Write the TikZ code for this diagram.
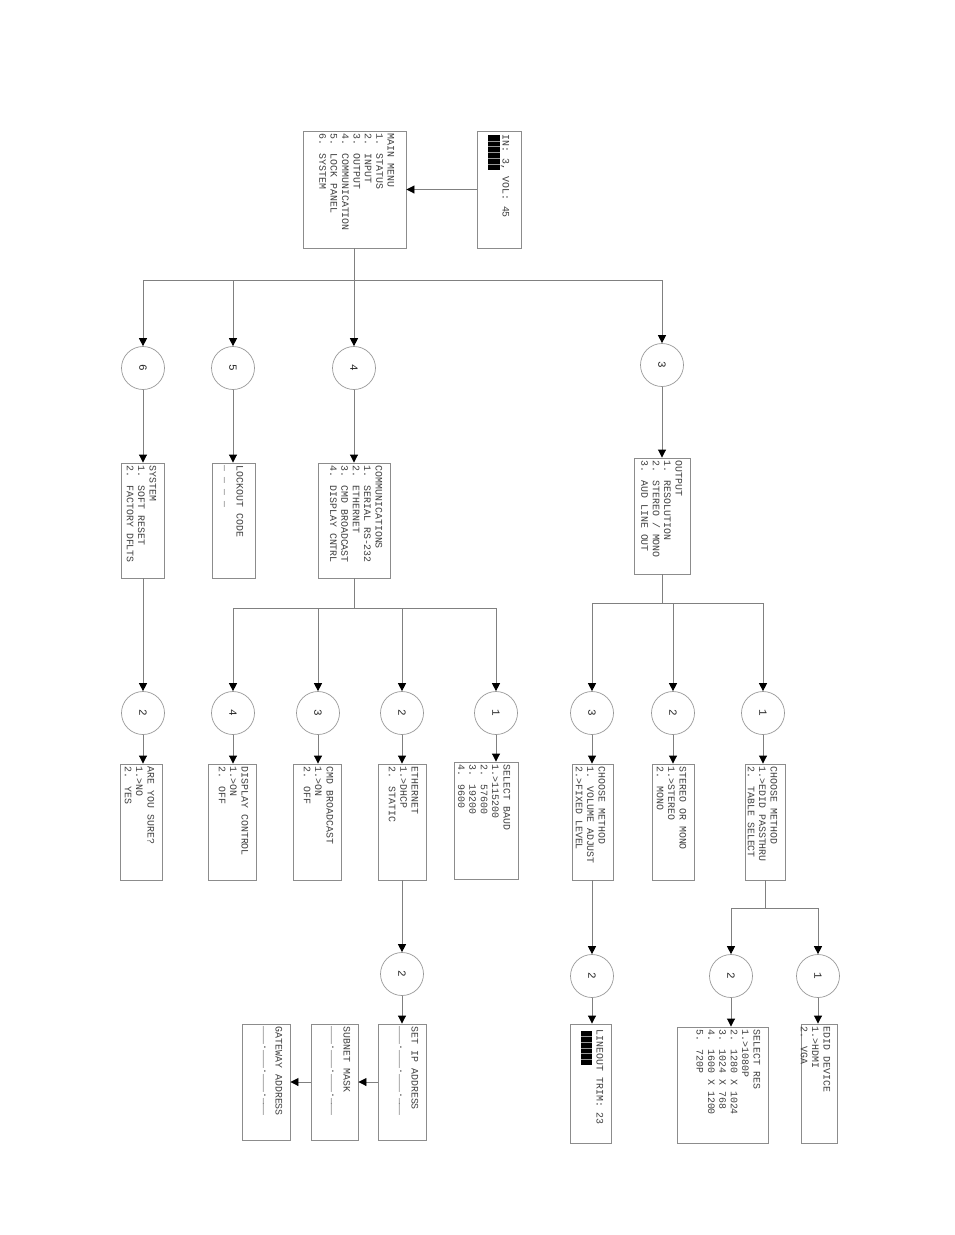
\documentclass[tikz,border=0pt]{standalone}
\usepackage{fontspec}
\newfontfamily\lcdfont{Liberation Mono}
\usetikzlibrary{arrows.meta}
\tikzset{
    menu/.style={draw=black!45, line width=0.9pt, inner sep=0pt},
    txt/.style={rotate=-90, anchor=north west, align=left, inner sep=0pt, text=black!75, font=\lcdfont\fontsize{9.9}{11.4}\selectfont},
    num/.style={circle, draw=black!40, line width=0.7pt, minimum size=43pt, inner sep=0pt, rotate=-90, text=black!85, font=\lcdfont\fontsize{11}{12}\selectfont},
    line/.style={draw=black!50, line width=0.9pt},
    arr/.style={line, -{Triangle[length=8pt,width=8pt,black]}}
}
\begin{document}
\begin{tikzpicture}[x=1pt,y=-1pt]
    \useasboundingbox[fill=white] (0,0) rectangle (954,1235);
    \node[menu, minimum width=103pt, minimum height=117pt] (main) at (354.5,189.5) {};
    \node[txt] (mainT) at ([xshift=-12pt,yshift=-3pt]main.north east) {MAIN MENU\\1. STATUS\\2. INPUT\\3. OUTPUT\\4. COMMUNICATION\\5. LOCK PANEL\\6. SYSTEM};
    \node[menu, minimum width=44pt, minimum height=117pt] (status) at (499,189.5) {};
    \node[txt] (statusT) at ([xshift=-12pt,yshift=-4pt]status.north east) {IN: 3, VOL: 45};
    \fill (488,135) rectangle (500,170);
    \foreach \k in {1,...,5} \draw[black!40, line width=0.4pt] (488,{135+5.83*\k}) -- (500,{135+5.83*\k});
    \draw[arr] (status) -- (main);
    \node[num] (c6) at (143,368) {6};
    \node[num] (c5) at (233,368) {5};
    \node[num] (c4) at (354,368) {4};
    \node[num] (c3) at (662,365) {3};
    \coordinate (mainJ) at (354.5,280);
    \draw[line] (main.south) -- (mainJ);
    \draw[arr] (mainJ) -| (c6);
    \draw[arr] (mainJ) -| (c5);
    \draw[arr] (mainJ) -| (c4);
    \draw[arr] (mainJ) -| (c3);
    \node[menu, minimum width=43pt, minimum height=115pt] (sys) at (142.5,520.5) {};
    \node[txt] (sysT) at ([xshift=-8pt,yshift=-3pt]sys.north east) {SYSTEM\\1. SOFT RESET\\2. FACTORY DFLTS};
    \node[menu, minimum width=43pt, minimum height=115pt] (lock) at (233.5,520.5) {};
    \node[txt] (lockT) at ([xshift=-12pt,yshift=-3pt]lock.north east) {LOCKOUT CODE\\\_ \_ \_ \_};
    \node[menu, minimum width=72pt, minimum height=115pt] (comm) at (354,520.5) {};
    \node[txt] (commT) at ([xshift=-8pt,yshift=-3pt]comm.north east) {COMMUNICATIONS\\1. SERIAL RS-232\\2. ETHERNET\\3. CMD BROADCAST\\4. DISPLAY CNTRL};
    \node[menu, minimum width=56pt, minimum height=116pt] (out) at (662,516) {};
    \node[txt] (outT) at ([xshift=-8pt,yshift=-3pt]out.north east) {OUTPUT\\1. RESOLUTION\\2. STEREO / MONO\\3. AUD LINE OUT};
    \draw[arr] (c6) -- (c6 |- sys.north);
    \draw[arr] (c5) -- (c5 |- lock.north);
    \draw[arr] (c4) -- (c4 |- comm.north);
    \draw[arr] (c3) -- (c3 |- out.north);
    \node[num] (s2) at (143,713) {2};
    \node[num] (d4) at (233,713) {4};
    \node[num] (d3) at (318,713) {3};
    \node[num] (d2) at (402,713) {2};
    \node[num] (d1) at (496,713) {1};
    \node[num] (e3) at (592,713) {3};
    \node[num] (e2) at (673,713) {2};
    \node[num] (e1) at (763,713) {1};
    \draw[arr] (sys.south -| s2) -- (s2);
    \coordinate (commJ) at (354,608);
    \draw[line] (comm.south) -- (commJ);
    \draw[arr] (commJ) -| (d4);
    \draw[arr] (commJ) -| (d3);
    \draw[arr] (commJ) -| (d2);
    \draw[arr] (commJ) -| (d1);
    \coordinate (outJ) at (662,603);
    \draw[line] (out.south) -- (outJ);
    \draw[arr] (outJ) -| (e3);
    \draw[arr] (outJ) -| (e2);
    \draw[arr] (outJ) -| (e1);
    \node[menu, minimum width=42pt, minimum height=116pt] (sure) at (141,822) {};
    \node[txt] (sureT) at ([xshift=-8pt,yshift=-3pt]sure.north east) {ARE YOU SURE?\\1.>NO\\2. YES};
    \node[menu, minimum width=48pt, minimum height=116pt] (disp) at (232,822) {};
    \node[txt] (dispT) at ([xshift=-8pt,yshift=-3pt]disp.north east) {DISPLAY CONTROL\\1.>ON\\2. OFF};
    \node[menu, minimum width=48pt, minimum height=116pt] (cmd) at (317,822) {};
    \node[txt] (cmdT) at ([xshift=-8pt,yshift=-3pt]cmd.north east) {CMD BROADCAST\\1.>ON\\2. OFF};
    \node[menu, minimum width=48pt, minimum height=116pt] (eth) at (402,822) {};
    \node[txt] (ethT) at ([xshift=-8pt,yshift=-3pt]eth.north east) {ETHERNET\\1.>DHCP\\2. STATIC};
    \node[menu, minimum width=64pt, minimum height=117pt] (baud) at (486,820.5) {};
    \node[txt] (baudT) at ([xshift=-8pt,yshift=-3pt]baud.north east) {SELECT BAUD\\1.>115200\\2. 57600\\3. 19200\\4. 9600};
    \node[menu, minimum width=41pt, minimum height=116pt] (vol) at (592.5,822) {};
    \node[txt] (volT) at ([xshift=-8pt,yshift=-3pt]vol.north east) {CHOOSE METHOD\\1. VOLUME ADJUST\\2.>FIXED LEVEL};
    \node[menu, minimum width=42pt, minimum height=116pt] (stereo) at (673,822) {};
    \node[txt] (stereoT) at ([xshift=-8pt,yshift=-3pt]stereo.north east) {STEREO OR MONO\\1.>STEREO\\2. MONO};
    \node[menu, minimum width=40pt, minimum height=116pt] (meth) at (765,822) {};
    \node[txt] (methT) at ([xshift=-8pt,yshift=-3pt]meth.north east) {CHOOSE METHOD\\1.>EDID PASSTHRU\\2. TABLE SELECT};
    \draw[arr] (s2) -- (s2 |- sure.north);
    \draw[arr] (d4) -- (d4 |- disp.north);
    \draw[arr] (d3) -- (d3 |- cmd.north);
    \draw[arr] (d2) -- (d2 |- eth.north);
    \draw[arr] (d1) -- (d1 |- baud.north);
    \draw[arr] (e3) -- (e3 |- vol.north);
    \draw[arr] (e2) -- (e2 |- stereo.north);
    \draw[arr] (e1) -- (e1 |- meth.north);
    \node[num] (f2) at (402,974) {2};
    \node[num] (g2) at (592,976) {2};
    \node[num] (h2) at (731,976) {2};
    \node[num] (h1) at (818,976) {1};
    \draw[arr] (eth.south -| f2) -- (f2);
    \draw[arr] (vol.south -| g2) -- (g2);
    \coordinate (methJ) at (765,908);
    \draw[line] (meth.south) -- (methJ);
    \draw[arr] (methJ) -| (h2);
    \draw[arr] (methJ) -| (h1);
    \node[menu, minimum width=48pt, minimum height=116pt] (ip) at (402,1082) {};
    \node[txt] (ipT) at ([xshift=-8pt,yshift=-3pt]ip.north east) {SET IP ADDRESS\\\_\_\_.\_\_\_.\_\_\_.\_\_\_};
    \node[menu, minimum width=47pt, minimum height=116pt] (subnet) at (334.5,1082) {};
    \node[txt] (subnetT) at ([xshift=-8pt,yshift=-3pt]subnet.north east) {SUBNET MASK\\\_\_\_.\_\_\_.\_\_\_.\_\_\_};
    \node[menu, minimum width=48pt, minimum height=116pt] (gate) at (266,1082) {};
    \node[txt] (gateT) at ([xshift=-8pt,yshift=-3pt]gate.north east) {GATEWAY ADDRESS\\\_\_\_.\_\_\_.\_\_\_.\_\_\_};
    \draw[arr] (ip) -- (subnet);
    \draw[arr] (subnet) -- (gate);
    \node[menu, minimum width=41pt, minimum height=119pt] (trim) at (590.5,1083.5) {};
    \node[txt] (trimT) at ([xshift=-8pt,yshift=-6pt]trim.north east) {LINEOUT TRIM: 23};
    \fill (581,1031) rectangle (592,1065);
    \foreach \k in {1,...,5} \draw[black!40, line width=0.4pt] (581,{1031+5.67*\k}) -- (592,{1031+5.67*\k});
    \node[menu, minimum width=91pt, minimum height=116pt] (res) at (722.5,1085) {};
    \node[txt] (resT) at ([xshift=-8pt,yshift=-3pt]res.north east) {SELECT RES\\1.>1080P\\2. 1280 X 1024\\3. 1024 X 768\\4. 1600 X 1200\\5. 720P};
    \node[menu, minimum width=36pt, minimum height=119pt] (edid) at (819,1083.5) {};
    \node[txt] (edidT) at ([xshift=-7pt,yshift=-3pt]edid.north east) {EDID DEVICE\\1.>HDMI\\2. VGA};
    \draw[arr] (f2) -- (f2 |- ip.north);
    \draw[arr] (g2) -- (g2 |- trim.north);
    \draw[arr] (h2) -- (h2 |- res.north);
    \draw[arr] (h1) -- (h1 |- edid.north);
\end{tikzpicture}
\end{document}
